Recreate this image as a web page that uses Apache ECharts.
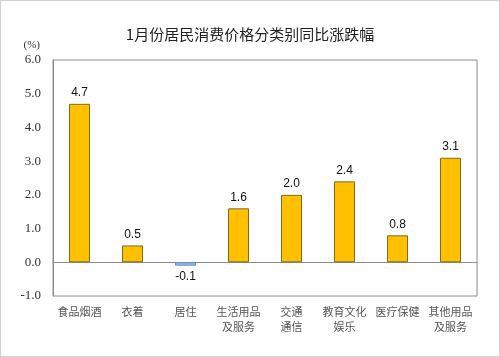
<!DOCTYPE html>
<html><head><meta charset="utf-8">
<script src="https://cdn.jsdelivr.net/npm/echarts@6/dist/echarts.min.js"></script>
<style>html,body{margin:0;padding:0;background:#fff}#c{width:500px;height:357px;box-sizing:border-box;border:1px solid #d0d0d0}</style>
</head><body><div id="c"></div>
<script>
const categories = ['食品烟酒','衣着','居住','生活用品\n及服务','交通\n通信','教育文化\n娱乐','医疗保健','其他用品\n及服务'];
const values = [4.7, 0.5, -0.1, 1.6, 2.0, 2.4, 0.8, 3.1];
const title = '1月份居民消费价格分类别同比涨跌幅';
const unit = '(%)';

const chart = echarts.init(document.getElementById('c'));
chart.setOption({
  animation: false,
  title: {text: title, left: 'center', top: 21, textStyle: {fontSize: 15, fontWeight: 'normal', color: '#222', fontFamily: 'Noto Sans CJK SC'}},
  grid: {left: 52, right: 22, top: 59, bottom: 60, show: true, borderColor: '#8c8c8c', borderWidth: 1, outerBoundsMode: 'none', containLabel: false},
  xAxis: {type: 'category', data: categories,
    axisLine: {onZero: true, lineStyle: {color: '#8c8c8c'}}, axisTick: {show: false},
    axisLabel: {interval: 0, margin: 8, color: '#555', fontSize: 11, lineHeight: 15, fontFamily: 'Noto Sans CJK SC', verticalAlign: 'top'}},
  yAxis: {type: 'value', min: -1, max: 6, interval: 1, name: unit, nameLocation: 'end', nameGap: 9,
    nameTextStyle: {color: '#333', fontSize: 11, fontFamily: 'Liberation Serif', align: 'right', padding: [0, 13, 0, 0]},
    axisLine: {show: true, lineStyle: {color: '#8c8c8c'}}, axisTick: {show: false}, splitLine: {show: false},
    axisLabel: {formatter: v => v.toFixed(1), color: '#333', fontSize: 13, fontFamily: 'Liberation Serif', margin: 12}},
  series: [{type: 'bar', barWidth: 21,
    data: values.map(v => v < 0 ? {value: v, itemStyle: {color: '#9dc3e6', borderColor: '#5b8ac0'}, label: {position: 'bottom'}} : v),
    itemStyle: {color: '#ffc000', borderColor: '#7f6a20', borderWidth: 1},
    label: {show: true, position: 'top', color: '#111', fontSize: 12, fontFamily: 'Liberation Sans', formatter: p => p.value.toFixed(1)}
  }]
});
</script></body></html>
